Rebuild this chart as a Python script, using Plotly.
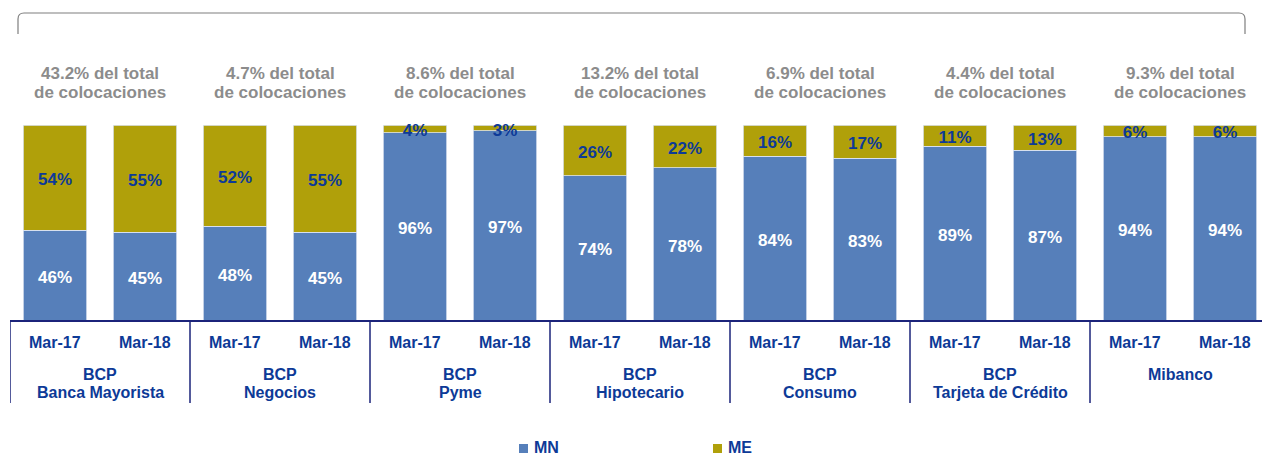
import plotly.graph_objects as go

periods = ["Mar-17", "Mar-18"]
groups = [["BCP", "Banca Mayorista"], ["BCP", "Negocios"], ["BCP", "Pyme"], ["BCP", "Hipotecario"],
          ["BCP", "Consumo"], ["BCP", "Tarjeta de Crédito"], ["Mibanco"]]
shares = ["43.2%", "4.7%", "8.6%", "13.2%", "6.9%", "4.4%", "9.3%"]
mn = [46, 45, 48, 45, 96, 97, 74, 78, 84, 83, 89, 87, 94, 94]
me = [54, 55, 52, 55, 4, 3, 26, 22, 16, 17, 11, 13, 6, 6]

C_MN = "#567FBA"
C_ME = "#B0A00A"
NAVY = "#0D3A97"
LINE = "#1B237A"
GRAY = "#8C8C8C"
FONT = "Liberation Sans, Arial, sans-serif"
LBL_OFF = 1.7  # small downward nudge of bar labels (axis units)

xs = list(range(len(mn)))
fig = go.Figure()
fig.add_trace(go.Bar(x=xs, y=mn, name="MN", marker=dict(color=C_MN, line=dict(color="#DCE4F0", width=0.8))))
fig.add_trace(go.Bar(x=xs, y=me, name="ME", marker=dict(color=C_ME, line=dict(color="#DCE4F0", width=0.8))))
fig.add_trace(go.Scatter(x=xs, y=[v / 2 - LBL_OFF for v in mn], mode="text", text=[f"{v}%" for v in mn],
                         textfont=dict(family=FONT, size=17, color="white", weight="bold"),
                         cliponaxis=False, showlegend=False, hoverinfo="skip"))
fig.add_trace(go.Scatter(x=xs, y=[a + b / 2 - LBL_OFF for a, b in zip(mn, me)], mode="text",
                         text=[f"{v}%" for v in me],
                         textfont=dict(family=FONT, size=17, color=NAVY, weight="bold"),
                         cliponaxis=False, showlegend=False, hoverinfo="skip"))

ann = []
shapes = []
for i in xs:
    ann.append(dict(x=i, y=0, xref="x", yref="paper", yshift=-22, text=periods[i % 2], showarrow=False,
                    font=dict(family=FONT, size=16, color=NAVY, weight="bold"), yanchor="middle"))
for g, (lines, sh) in enumerate(zip(groups, shares)):
    cx = 2 * g + 0.5
    for k, ln in enumerate(lines):
        ann.append(dict(x=cx, y=0, xref="x", yref="paper", yshift=-54 - 18 * k, text=ln, showarrow=False,
                        font=dict(family=FONT, size=16, color=NAVY, weight="bold"), yanchor="middle"))
    for k, ln in enumerate([f"{sh} del total", "de colocaciones"]):
        ann.append(dict(x=cx, y=1, xref="x", yref="paper", yshift=52 - 19 * k, text=ln,
                        showarrow=False, font=dict(family=FONT, size=17, color=GRAY, weight="bold"),
                        yanchor="middle"))
    shapes.append(dict(type="line", xref="x", yref="paper", x0=2 * g - 0.5, x1=2 * g - 0.5,
                       y0=0, y1=-83 / 195, line=dict(color=LINE, width=1.5)))

# top bracket
px = lambda p: (p - 10) / 1252
py = lambda p: (320 - p) / 195
shapes.append(dict(type="path", xref="paper", yref="paper",
                   path=(f"M {px(18)} {py(34)} L {px(18)} {py(19)} Q {px(18)} {py(13)} {px(24)} {py(13)} "
                         f"L {px(1239)} {py(13)} Q {px(1245)} {py(13)} {px(1245)} {py(19)} L {px(1245)} {py(34)}"),
                   line=dict(color="#7F7F7F", width=1.2)))

# legend
for lx, name, col in [(519, "MN", C_MN), (713, "ME", C_ME)]:
    shapes.append(dict(type="rect", xref="paper", yref="paper", x0=px(lx), x1=px(lx + 9),
                       y0=py(453), y1=py(444), fillcolor=col, line=dict(width=0)))
    ann.append(dict(x=px(lx + 13), y=py(447.5), xref="paper", yref="paper", text=name, showarrow=False,
                    xanchor="left", yanchor="middle",
                    font=dict(family=FONT, size=16, color=NAVY, weight="bold")))

fig.update_layout(
    width=1262, height=456, barmode="stack", bargap=0.29,
    margin=dict(l=10, r=0, t=125, b=136),
    paper_bgcolor="white", plot_bgcolor="white", showlegend=False,
    xaxis=dict(range=[-0.5, -0.5 + 1252 / 90], showticklabels=False, showgrid=False, zeroline=False,
               showline=True, linecolor=LINE, linewidth=1.5, ticks=""),
    yaxis=dict(range=[0, 100], visible=False),
    annotations=ann, shapes=shapes,
)
fig.write_html("out.html", config={"displayModeBar": False},
               post_script="document.body.style.margin='0';document.body.style.overflow='hidden';")
